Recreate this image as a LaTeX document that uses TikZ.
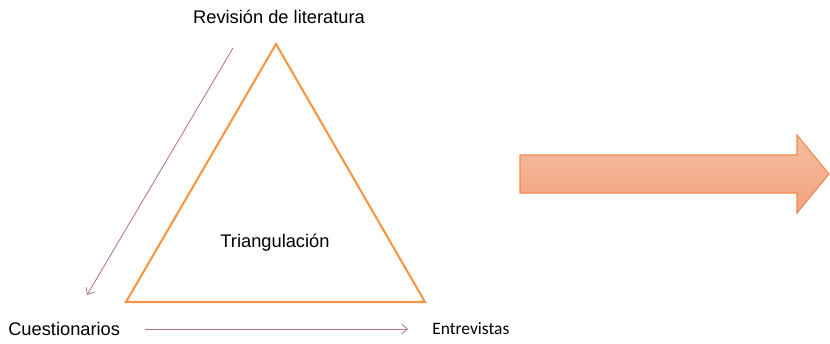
\documentclass[tikz,border=0pt]{standalone}
\usepackage{fontspec}
\setmainfont{Liberation Sans}
\newfontfamily\calibrifont{Carlito}
\usetikzlibrary{arrows.meta}
\usetikzlibrary{positioning}

\begin{document}
\begin{tikzpicture}[x=0.025cm,y=-0.025cm,>={Straight Barb[length=4pt,width=7pt]},
	label node/.style={inner sep=0pt,font=\fontsize{13}{15}\selectfont},
	side/.style={draw=triorange,line width=1.5pt,line join=miter},
	flow/.style={->,draw=mauve,line width=0.6pt}]
	
	\definecolor{triorange}{RGB}{247,150,70}
	\definecolor{mauve}{RGB}{180,115,140}
	\definecolor{arrowtop}{RGB}{246,188,160}
	\definecolor{arrowbottom}{RGB}{241,163,128}
	\definecolor{arrowline}{RGB}{240,140,82}
	
	\useasboundingbox (0,0) rectangle (830,343);
	
	% triangle corners
	\coordinate (apex) at (276,44);
	\coordinate (left) at (126,302);
	\coordinate (right) at (425,302);
	
	\node[label node] (rev) at (279,17) {Revisión de literatura};
	\node[label node] (tri) at (275,243) {Triangulación};
	\node[label node,anchor=west] (cue) at (8,329) {Cuestionarios};
	\node[label node,anchor=west,font=\calibrifont\fontsize{12.4}{15}\selectfont] (ent) at (432,329) {Entrevistas};
	
	\coordinate (s1) at (233,48);
	\coordinate (e1) at (87,295);
	\coordinate (s2) at (145,329);
	\coordinate (e2) at (408,329);
	
	\draw[side] (apex) -- (right) -- (left) -- cycle;
	
	\path
	(s1) edge[flow] (e1)
	(s2) edge[flow] (e2);
	
	% big arrow
	\shade[top color=arrowtop,bottom color=arrowbottom,draw=arrowline,line width=0.8pt]
	(520,155) -- (797,155) -- (797,135) -- (829,174) -- (797,213) -- (797,193) -- (520,193) -- cycle;
\end{tikzpicture}
\end{document}
